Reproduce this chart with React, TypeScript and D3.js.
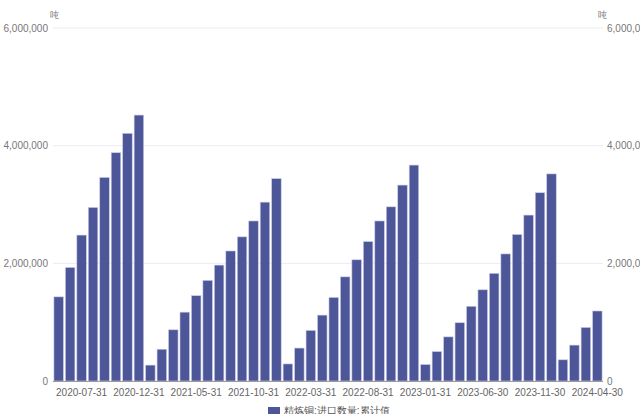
import * as React from "react";
import * as d3 from "d3";

const months: string[] = [
  "2020-05-31", "2020-06-30", "2020-07-31", "2020-08-31", "2020-09-30", "2020-10-31", "2020-11-30", "2020-12-31",
  "2021-01-31", "2021-02-28", "2021-03-31", "2021-04-30", "2021-05-31", "2021-06-30", "2021-07-31", "2021-08-31",
  "2021-09-30", "2021-10-31", "2021-11-30", "2021-12-31",
  "2022-01-31", "2022-02-28", "2022-03-31", "2022-04-30", "2022-05-31", "2022-06-30", "2022-07-31", "2022-08-31",
  "2022-09-30", "2022-10-31", "2022-11-30", "2022-12-31",
  "2023-01-31", "2023-02-28", "2023-03-31", "2023-04-30", "2023-05-31", "2023-06-30", "2023-07-31", "2023-08-31",
  "2023-09-30", "2023-10-31", "2023-11-30", "2023-12-31",
  "2024-01-31", "2024-02-29", "2024-03-31", "2024-04-30",
];

const values: number[] = [
  1430000, 1930000, 2480000, 2950000, 3460000, 3880000, 4210000, 4520000,
  270000, 540000, 870000, 1170000, 1450000, 1710000, 1970000, 2210000, 2450000, 2720000, 3040000, 3440000,
  290000, 560000, 860000, 1120000, 1420000, 1770000, 2060000, 2370000, 2720000, 2960000, 3330000, 3670000,
  280000, 500000, 750000, 990000, 1270000, 1550000, 1830000, 2160000, 2490000, 2820000, 3200000, 3520000,
  360000, 610000, 910000, 1190000,
];

const yTicks: number[] = [0, 2000000, 4000000, 6000000];
const xTickLabels: string[] = [
  "2020-07-31", "2020-12-31", "2021-05-31", "2021-10-31", "2022-03-31",
  "2022-08-31", "2023-01-31", "2023-06-30", "2023-11-30", "2024-04-30",
];
const unit = "吨";
const seriesName = "精炼铜:进口数量:累计值";

const W = 640;
const H = 414;
const left = 53;
const right = 603;
const top = 28;
const bottom = 381;
const barColor = "#4c5698";
const font = "'Liberation Sans', Arial, sans-serif";

export default function App() {
  const x = d3.scaleBand<string>().domain(months).range([left, right]).paddingInner(0.17).paddingOuter(0.08);
  const y = d3.scaleLinear().domain([0, 6000000]).range([bottom, top]);
  const fmt = d3.format(",");

  return (
    <svg width={W} height={H} style={{ position: "absolute", left: 0, top: 0, fontFamily: font }}>
      {yTicks.filter((t) => t > 0).map((t) => (
        <line key={t} x1={left} x2={right} y1={y(t)} y2={y(t)} stroke="#ebebf0" strokeWidth={1} />
      ))}
      {values.map((v, i) => (
        <rect
          key={months[i]}
          x={x(months[i])}
          y={y(v)}
          width={x.bandwidth()}
          height={bottom - y(v)}
          fill={barColor}
          stroke="#c9cce3"
          strokeWidth={0.6}
        />
      ))}
      <line x1={left} x2={right} y1={bottom + 0.5} y2={bottom + 0.5} stroke="#9a9a9a" strokeWidth={1} />
      {yTicks.map((t) => (
        <g key={"l" + t}>
          <text x={48} y={y(t)} dy="0.35em" textAnchor="end" fontSize={10} fill="#777">{fmt(t)}</text>
          <text x={607} y={y(t)} dy="0.35em" textAnchor="start" fontSize={10} fill="#777">{fmt(t)}</text>
        </g>
      ))}
      <text x={50} y={18} fontSize={9} fill="#777">{unit}</text>
      <text x={598} y={18} fontSize={9} fill="#777">{unit}</text>
      {xTickLabels.map((m) => (
        <text key={m} x={(x(m) ?? 0) + x.bandwidth() / 2} y={396} textAnchor="middle" fontSize={10} fill="#666">{m}</text>
      ))}
      <rect x={268} y={407} width={12} height={7} fill={barColor} />
      <text x={284} y={414} fontSize={10} fill="#555">{seriesName}</text>
    </svg>
  );
}
